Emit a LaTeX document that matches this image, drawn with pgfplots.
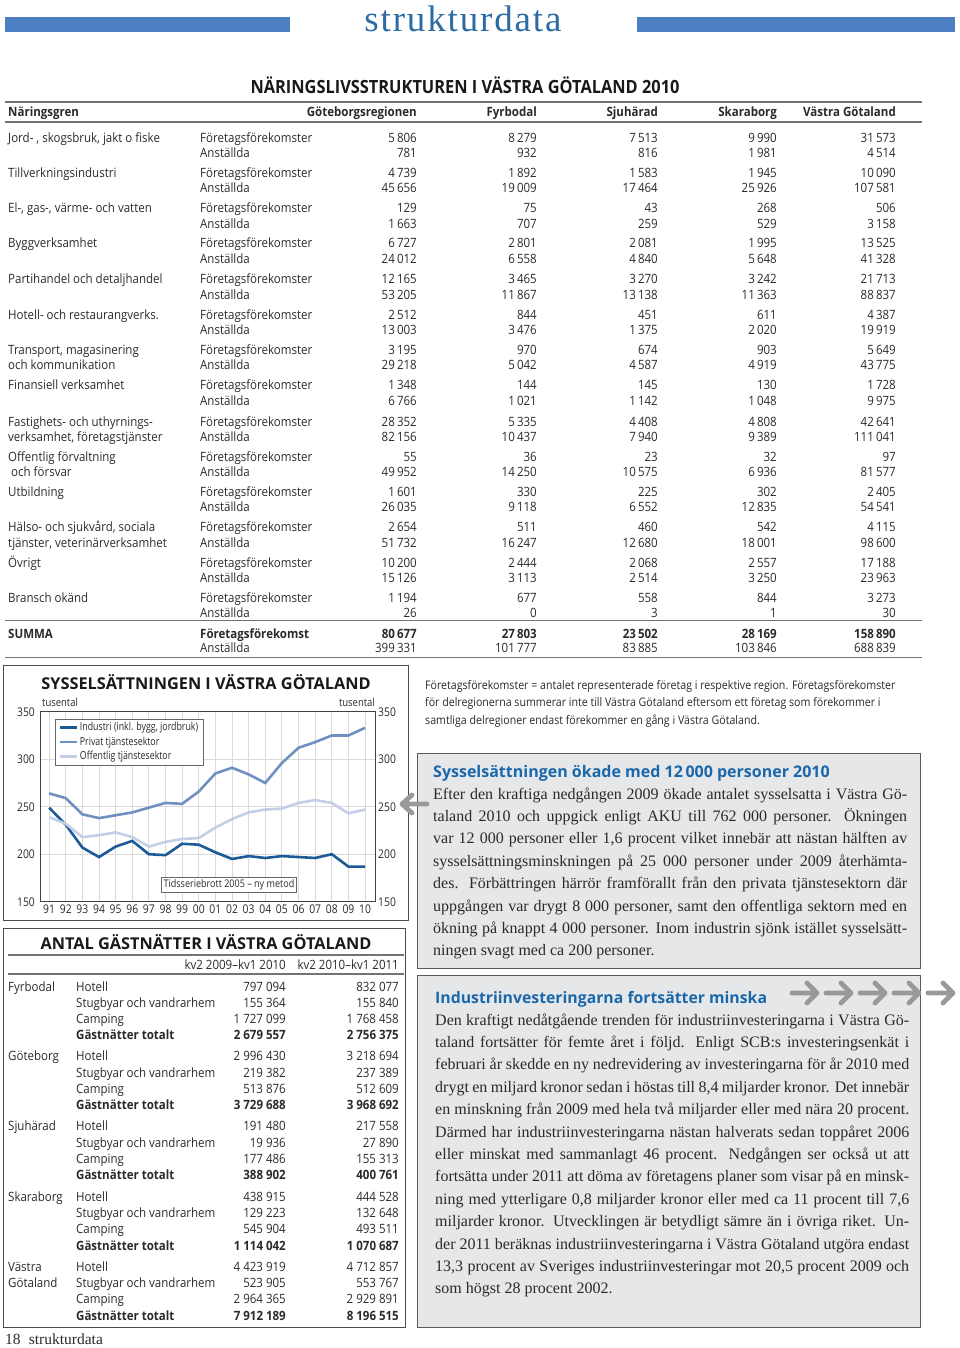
\documentclass[border=0pt]{standalone}
\usepackage{fontspec}
\usepackage{pgfplots}
\pgfplotsset{compat=1.18}
\setmainfont{Liberation Serif}
\newfontfamily\cond[FakeStretch=0.9]{Open Sans}
\newfontfamily\condn[FakeStretch=0.86]{Open Sans}
\newfontfamily\condl[FakeStretch=0.8]{Open Sans}
\newfontfamily\sansw{Open Sans}
\definecolor{ind}{HTML}{1C5B97}
\definecolor{priv}{HTML}{7190C2}
\definecolor{off}{HTML}{C3CFE7}
\definecolor{gridc}{HTML}{DADADA}
\definecolor{barblue}{HTML}{4C80C3}
\definecolor{titblue}{HTML}{2C6CA3}
\definecolor{headblue}{HTML}{1A68AA}
\definecolor{boxfill}{HTML}{E6E7E9}
\definecolor{txt}{HTML}{2A2A2A}
\newcommand\tf{\cond\fontsize{12.8}{14}\selectfont}
\newcommand\tkf{\condn\fontsize{12}{14}\selectfont}
\newcommand\nf{\condn\fontsize{11}{13}\selectfont}
\newcommand\notef{\cond\fontsize{11.8}{13}\selectfont}
\newcommand\bodyf{\fontsize{16}{22.4}\selectfont}
\tikzset{
 L/.style={anchor=mid west,inner sep=0pt,font=\tf,text=txt,yshift=-2pt},
 R/.style={anchor=mid east,inner sep=0pt,font=\tf,text=txt,yshift=-2pt},
 rule/.style={draw=black!55,line width=1.6pt},
 garrow/.style={draw=black!40,line width=4.8pt,line cap=round,line join=round}
}
\newcommand\vals[7]{%
 \node[L] at (200,#1) {#2};
 \node[R] at (417,#1) {#3};
 \node[R] at (537,#1) {#4};
 \node[R] at (658,#1) {#5};
 \node[R] at (777,#1) {#6};
 \node[R] at (896,#1) {#7};}
\newcommand\valsb[7]{%
 \node[L,font=\tf\bfseries] at (200,#1) {#2};
 \node[R,font=\tf\bfseries] at (417,#1) {#3};
 \node[R,font=\tf\bfseries] at (537,#1) {#4};
 \node[R,font=\tf\bfseries] at (658,#1) {#5};
 \node[R,font=\tf\bfseries] at (777,#1) {#6};
 \node[R,font=\tf\bfseries] at (896,#1) {#7};}
\newcommand\g[4]{%
 \node[L] at (76,#1) {#2};
 \node[R] at (286,#1) {#3};
 \node[R] at (399,#1) {#4};}
\newcommand\gb[4]{%
 \node[L,font=\tf\bfseries] at (76,#1) {#2};
 \node[R,font=\tf\bfseries] at (286,#1) {#3};
 \node[R,font=\tf\bfseries] at (399,#1) {#4};}
\newcommand\bl[3]{\node[anchor=base west,inner sep=0pt,font=\bodyf,text=txt] at (#1,#2) {\makebox[474pt][s]{#3}};}
\newcommand\bll[3]{\node[anchor=base west,inner sep=0pt,font=\bodyf,text=txt] at (#1,#2) {#3};}
\begin{document}
\begin{tikzpicture}
\begin{scope}[x=1pt,y=-1pt]
\path (0,0) rectangle (960,1348);
% header
\fill[barblue] (5,17) rectangle (290,32);
\fill[barblue] (637,17) rectangle (955,32);
\node[anchor=base,inner sep=0pt,text=titblue,font={\addfontfeatures{LetterSpace=5}\fontsize{37}{38}\selectfont}] at (463,32) {strukturdata};
% table 1
\node[anchor=mid,inner sep=0pt,yshift=-5pt,font={\cond\bfseries\fontsize{18.2}{20}\selectfont},text=black!90] at (465,86) {NÄRINGSLIVSSTRUKTUREN I VÄSTRA GÖTALAND 2010};
\draw[rule] (5,102) -- (922,102);
\draw[rule] (5,122) -- (922,122);
\node[L,font=\tf\bfseries] at (8,112) {Näringsgren};
\node[R,font=\tf\bfseries] at (417,112) {Göteborgsregionen};
\node[R,font=\tf\bfseries] at (537,112) {Fyrbodal};
\node[R,font=\tf\bfseries] at (658,112) {Sjuhärad};
\node[R,font=\tf\bfseries] at (777,112) {Skaraborg};
\node[R,font=\tf\bfseries] at (896,112) {Västra Götaland};
\node[L] at (8,138) {Jord- , skogsbruk, jakt o fiske};
\vals{138}{Företagsförekomster}{5\,806}{8\,279}{7\,513}{9\,990}{31\,573}
\vals{153}{Anställda}{781}{932}{816}{1\,981}{4\,514}
\node[L] at (8,173) {Tillverkningsindustri};
\vals{173}{Företagsförekomster}{4\,739}{1\,892}{1\,583}{1\,945}{10\,090}
\vals{188}{Anställda}{45\,656}{19\,009}{17\,464}{25\,926}{107\,581}
\node[L] at (8,208) {El-, gas-, värme- och vatten};
\vals{208}{Företagsförekomster}{129}{75}{43}{268}{506}
\vals{224}{Anställda}{1\,663}{707}{259}{529}{3\,158}
\node[L] at (8,243) {Byggverksamhet};
\vals{243}{Företagsförekomster}{6\,727}{2\,801}{2\,081}{1\,995}{13\,525}
\vals{259}{Anställda}{24\,012}{6\,558}{4\,840}{5\,648}{41\,328}
\node[L] at (8,279) {Partihandel och detaljhandel};
\vals{279}{Företagsförekomster}{12\,165}{3\,465}{3\,270}{3\,242}{21\,713}
\vals{295}{Anställda}{53\,205}{11\,867}{13\,138}{11\,363}{88\,837}
\node[L] at (8,315) {Hotell- och restaurangverks.};
\vals{315}{Företagsförekomster}{2\,512}{844}{451}{611}{4\,387}
\vals{330}{Anställda}{13\,003}{3\,476}{1\,375}{2\,020}{19\,919}
\node[L] at (8,350) {Transport, magasinering};
\node[L] at (8,365) {och kommunikation};
\vals{350}{Företagsförekomster}{3\,195}{970}{674}{903}{5\,649}
\vals{365}{Anställda}{29\,218}{5\,042}{4\,587}{4\,919}{43\,775}
\node[L] at (8,385) {Finansiell verksamhet};
\vals{385}{Företagsförekomster}{1\,348}{144}{145}{130}{1\,728}
\vals{401}{Anställda}{6\,766}{1\,021}{1\,142}{1\,048}{9\,975}
\node[L] at (8,422) {Fastighets- och uthyrnings-};
\node[L] at (8,437) {verksamhet, företagstjänster};
\vals{422}{Företagsförekomster}{28\,352}{5\,335}{4\,408}{4\,808}{42\,641}
\vals{437}{Anställda}{82\,156}{10\,437}{7\,940}{9\,389}{111\,041}
\node[L] at (8,457) {Offentlig förvaltning};
\node[L] at (11,472) {och försvar};
\vals{457}{Företagsförekomster}{55}{36}{23}{32}{97}
\vals{472}{Anställda}{49\,952}{14\,250}{10\,575}{6\,936}{81\,577}
\node[L] at (8,492) {Utbildning};
\vals{492}{Företagsförekomster}{1\,601}{330}{225}{302}{2\,405}
\vals{507}{Anställda}{26\,035}{9\,118}{6\,552}{12\,835}{54\,541}
\node[L] at (8,527) {Hälso- och sjukvård, sociala};
\node[L] at (8,543) {tjänster, veterinärverksamhet};
\vals{527}{Företagsförekomster}{2\,654}{511}{460}{542}{4\,115}
\vals{543}{Anställda}{51\,732}{16\,247}{12\,680}{18\,001}{98\,600}
\node[L] at (8,563) {Övrigt};
\vals{563}{Företagsförekomster}{10\,200}{2\,444}{2\,068}{2\,557}{17\,188}
\vals{578}{Anställda}{15\,126}{3\,113}{2\,514}{3\,250}{23\,963}
\node[L] at (8,598) {Bransch okänd};
\vals{598}{Företagsförekomster}{1\,194}{677}{558}{844}{3\,273}
\vals{613}{Anställda}{26}{0}{3}{1}{30}
\draw[rule] (5,620.5) -- (922,620.5);
\node[L,font=\tf\bfseries] at (8,634) {SUMMA};
\valsb{634}{Företagsförekomst}{80\,677}{27\,803}{23\,502}{28\,169}{158\,890}
\vals{648}{Anställda}{399\,331}{101\,777}{83\,885}{103\,846}{688\,839}
\draw[rule] (5,657.5) -- (922,657.5);
% chart frame
\draw[black!70,line width=0.8pt] (3,665) rectangle (408,920);
\node[anchor=mid,inner sep=0pt,yshift=-4pt,font={\sansw\bfseries\fontsize{16.3}{18}\selectfont},text=black!90] at (206,683) {SYSSELSÄTTNINGEN I VÄSTRA GÖTALAND};
\node[L,font=\nf] at (42,702) {tusental};
\node[R,font=\nf] at (375,702) {tusental};
% note
\node[L,font=\notef] at (425,685) {Företagsförekomster = antalet representerade företag i respektive region. Företagsförekomster};
\node[L,font=\notef] at (425,702) {för delregionerna summerar inte till Västra Götaland eftersom ett företag som förekommer i};
\node[L,font=\notef] at (425,720) {samtliga delregioner endast förekommer en gång i Västra Götaland.};
% box 1
\draw[fill=boxfill,draw=black!65,line width=1pt] (417,753) rectangle (920,968);
\draw[garrow] (427,804) -- (402,804) (412,795) -- (402,804) -- (412,813);
\node[anchor=mid west,inner sep=0pt,yshift=-4pt,text=headblue,font={\sansw\bfseries\fontsize{16}{18}\selectfont}] at (433,771) {Sysselsättningen ökade med 12\,000 personer 2010};
\bl{433}{799}{Efter den kraftiga nedgången 2009 ökade antalet sysselsatta i Västra Gö-}
\bl{433}{821.4}{taland 2010 och uppgick enligt AKU till 762 000 personer. Ökningen}
\bl{433}{843.8}{var 12 000 personer eller 1,6 procent vilket innebär att nästan hälften av}
\bl{433}{866.2}{sysselsättningsminskningen på 25 000 personer under 2009 återhämta-}
\bl{433}{888.6}{des. Förbättringen härrör framförallt från den privata tjänstesektorn där}
\bl{433}{911}{uppgången var drygt 8 000 personer, samt den offentliga sektorn med en}
\bl{433}{933.4}{ökning på knappt 4 000 personer. Inom industrin sjönk istället sysselsätt-}
\bll{433}{955.8}{ningen svagt med ca 200 personer.}
% box 2
\draw[fill=boxfill,draw=black!65,line width=1pt] (417,975) rectangle (920,1327);
\node[anchor=mid west,inner sep=0pt,yshift=-4pt,text=headblue,font={\sansw\bfseries\fontsize{15.8}{18}\selectfont}] at (435,997) {Industriinvesteringarna fortsätter minska};
\foreach \ax in {792,826,860,894,928}{
 \draw[garrow] (\ax,993) -- (\ax+25,993) (\ax+15,983) -- (\ax+25,993) -- (\ax+15,1003);
}
\bl{435}{1025}{Den kraftigt nedåtgående trenden för industriinvesteringarna i Västra Gö-}
\bl{435}{1047.4}{taland fortsätter för femte året i följd. Enligt SCB:s investeringsenkät i}
\bl{435}{1069.8}{februari år skedde en ny nedrevidering av investeringarna för år 2010 med}
\bl{435}{1092.2}{drygt en miljard kronor sedan i höstas till 8,4 miljarder kronor. Det innebär}
\bl{435}{1114.6}{en minskning från 2009 med hela två miljarder eller med nära 20 procent.}
\bl{435}{1137}{Därmed har industriinvesteringarna nästan halverats sedan toppåret 2006}
\bl{435}{1159.4}{eller minskat med sammanlagt 46 procent. Nedgången ser också ut att}
\bl{435}{1181.8}{fortsätta under 2011 att döma av företagens planer som visar på en minsk-}
\bl{435}{1204.2}{ning med ytterligare 0,8 miljarder kronor eller med ca 11 procent till 7,6}
\bl{435}{1226.6}{miljarder kronor. Utvecklingen är betydligt sämre än i övriga riket. Un-}
\bl{435}{1249}{der 2011 beräknas industriinvesteringarna i Västra Götaland utgöra endast}
\bl{435}{1271.4}{13,3 procent av Sveriges industriinvesteringar mot 20,5 procent 2009 och}
\bll{435}{1293.8}{som högst 28 procent 2002.}
% table gästnätter
\draw[black!70,line width=0.8pt] (3,928) rectangle (405,1327);
\node[anchor=mid,inner sep=0pt,yshift=-4pt,font={\sansw\bfseries\fontsize{16.3}{18}\selectfont},text=black!90] at (206,943) {ANTAL GÄSTNÄTTER I VÄSTRA GÖTALAND};
\draw[draw=black!55,line width=1.2pt] (8,955) -- (404,955);
\node[R] at (286,965) {kv2 2009–kv1 2010};
\node[R] at (399,965) {kv2 2010–kv1 2011};
\draw[draw=black!55,line width=1.2pt] (8,974) -- (404,974);
\node[L] at (8,987) {Fyrbodal};
\g{987}{Hotell}{797 094}{832 077}
\g{1003}{Stugbyar och vandrarhem}{155 364}{155 840}
\g{1019}{Camping}{1 727 099}{1 768 458}
\gb{1035}{Gästnätter totalt}{2 679 557}{2 756 375}
\node[L] at (8,1056) {Göteborg};
\g{1056}{Hotell}{2 996 430}{3 218 694}
\g{1073}{Stugbyar och vandrarhem}{219 382}{237 389}
\g{1089}{Camping}{513 876}{512 609}
\gb{1105}{Gästnätter totalt}{3 729 688}{3 968 692}
\node[L] at (8,1126) {Sjuhärad};
\g{1126}{Hotell}{191 480}{217 558}
\g{1143}{Stugbyar och vandrarhem}{19 936}{27 890}
\g{1159}{Camping}{177 486}{155 313}
\gb{1175}{Gästnätter totalt}{388 902}{400 761}
\node[L] at (8,1197) {Skaraborg};
\g{1197}{Hotell}{438 915}{444 528}
\g{1213}{Stugbyar och vandrarhem}{129 223}{132 648}
\g{1229}{Camping}{545 904}{493 511}
\gb{1246}{Gästnätter totalt}{1 114 042}{1 070 687}
\node[L] at (8,1267) {Västra};
\node[L] at (8,1283) {Götaland};
\g{1267}{Hotell}{4 423 919}{4 712 857}
\g{1283}{Stugbyar och vandrarhem}{523 905}{553 767}
\g{1299}{Camping}{2 964 365}{2 929 891}
\gb{1316}{Gästnätter totalt}{7 912 189}{8 196 515}
\node[anchor=mid west,inner sep=0pt,yshift=-3pt,font=\fontsize{15.5}{16}\selectfont,text=txt] at (5,1339) {18\; strukturdata};
\end{scope}
% chart
\begin{axis}[at={(40pt,-901.7pt)},anchor=south west,scale only axis,
 width=335pt,height=190pt,xmin=-0.55,xmax=19.6,ymin=150,ymax=350,
 xtick={0,...,19},
 xticklabels={91,92,93,94,95,96,97,98,99,00,01,02,03,04,05,06,07,08,09,10},
 ytick={150,200,250,300,350},
 /pgf/number format/assume math mode=true,
 major tick length=0pt,
 grid=major,grid style={draw=gridc,line width=0.9pt},
 axis line style={draw=black!75,line width=0.8pt},
 tick label style={font=\tkf,text=txt},
 yticklabel style={inner sep=0pt,xshift=-5pt},
 xticklabel style={inner sep=0pt,yshift=-3pt},
 legend style={at={(0.045,0.962)},anchor=north west,draw=black!60,fill=white,
   font={\condl\fontsize{11}{12}\selectfont},text=txt,inner xsep=3pt,inner ysep=1.5pt,
   row sep=0.5pt,cells={anchor=west}},
 legend cell align=left]
\addplot[ind,line width=2.6pt] coordinates {(0,249) (1,231) (2,207) (3,197) (4,208) (5,214) (6,200) (7,199) (8,211) (9,210) (10,202) (11,195) (12,198) (13,196) (14,198) (15,197) (16,196) (17,200) (18,187) (19,187)};
\addplot[priv,line width=2.6pt] coordinates {(0,264) (1,259) (2,242) (3,238) (4,241) (5,244) (6,249) (7,254) (8,253) (9,266) (10,285) (11,291) (12,284) (13,275) (14,296) (15,312) (16,318) (17,325) (18,325) (19,333)};
\addplot[off,line width=2.6pt] coordinates {(0,239) (1,232) (2,218) (3,220) (4,223) (5,218) (6,208) (7,213) (8,216) (9,217) (10,228) (11,237) (12,244) (13,247) (14,248) (15,254) (16,257) (17,254) (18,243) (19,247)};
\legend{{Industri (inkl. bygg, jordbruk)},{Privat tjänstesektor},{Offentlig tjänstesektor}}
\node[draw=black!60,fill=white,inner sep=2pt,font={\condn\fontsize{10.5}{12}\selectfont},text=txt] at (rel axis cs:0.564,0.09) {Tidsseriebrott 2005 – ny metod};
\end{axis}
\begin{axis}[at={(40pt,-901.7pt)},anchor=south west,scale only axis,
 width=335pt,height=190pt,xmin=-0.55,xmax=19.6,ymin=150,ymax=350,
 hide x axis,axis y line*=right,y axis line style={draw=none},
 ytick={150,200,250,300,350},major tick length=0pt,
 /pgf/number format/assume math mode=true,
 tick label style={font=\tkf,text=txt},
 yticklabel style={inner sep=0pt,xshift=3pt}]
\addplot[draw=none] coordinates {(0,200)};
\end{axis}
\end{tikzpicture}
\end{document}
